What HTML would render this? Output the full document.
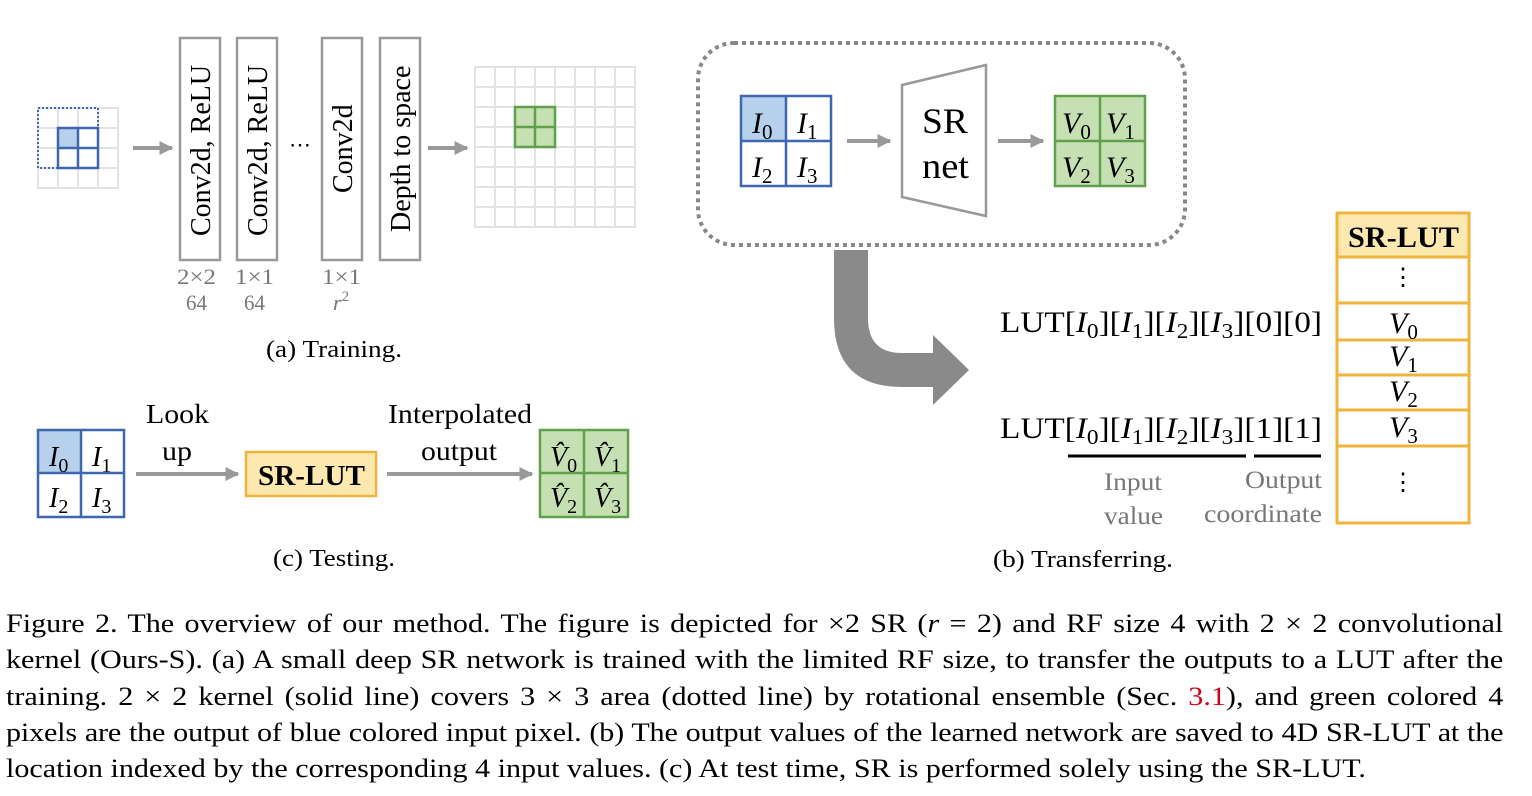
<!DOCTYPE html>
<html><head><meta charset="utf-8"><style>
body{margin:0;background:#fff;width:1532px;height:796px;overflow:hidden;position:relative;font-family:"Liberation Serif",serif}
svg{position:absolute;left:0;top:0}
.cap{position:absolute;left:6px;width:1293px;font-size:26px;line-height:36px;text-align:justify;text-align-last:justify;white-space:nowrap;color:#000;transform:scaleX(1.158);transform-origin:0 0}
.last{text-align-last:left}
text{font-family:"Liberation Serif",serif}
</style></head><body>
<svg width="1532" height="600" viewBox="0 0 1532 600">
<defs>
<marker id="ah2" viewBox="0 0 10 10" markerWidth="14" markerHeight="14" refX="9" refY="5" orient="auto" markerUnits="userSpaceOnUse"><path d="M0,0 L10,5 L0,10 Z" fill="#999"/></marker>
</defs>
<!-- (a) input grid -->
<g stroke="#e3e3e3" stroke-width="2" fill="none">
<rect x="38" y="108" width="80" height="80"/>
<path d="M58,108V188M78,108V188M98,108V188M38,128H118M38,148H118M38,168H118"/>
</g>
<rect x="58" y="128" width="20" height="20" fill="#b7d0ec"/>
<rect x="38" y="108" width="60" height="60" fill="none" stroke="#3f66b0" stroke-width="2" stroke-dasharray="2,2"/>
<g stroke="#3f66b0" stroke-width="2.5" fill="none"><rect x="58" y="128" width="40" height="40"/><path d="M78,128V168M58,148H98"/></g>
<line x1="133" y1="148" x2="172" y2="148" stroke="#999" stroke-width="4" marker-end="url(#ah2)"/>
<g fill="#fff" stroke="#999" stroke-width="2.5">
<rect x="180" y="38" width="40" height="222"/><rect x="237" y="38" width="40" height="222"/>
<rect x="322" y="38" width="40" height="222"/><rect x="380" y="38" width="40" height="222"/>
</g>
<g font-size="28" fill="#000">
<text transform="translate(210,236) rotate(-90)">Conv2d, ReLU</text>
<text transform="translate(267,236) rotate(-90)">Conv2d, ReLU</text>
<text transform="translate(352,193) rotate(-90)">Conv2d</text>
<text transform="translate(410,232) rotate(-90)">Depth to space</text>
</g>
<text x="300" y="152" font-size="22" text-anchor="middle">⋯</text>
<g font-size="22" fill="#777">
<text x="177" y="284" textLength="39" lengthAdjust="spacingAndGlyphs">2×2</text><text x="186" y="310" textLength="21" lengthAdjust="spacingAndGlyphs">64</text>
<text x="235" y="284" textLength="39" lengthAdjust="spacingAndGlyphs">1×1</text><text x="244" y="310" textLength="21" lengthAdjust="spacingAndGlyphs">64</text>
<text x="322" y="284" textLength="39" lengthAdjust="spacingAndGlyphs">1×1</text><text x="333" y="310" font-style="italic">r<tspan font-size="15" dy="-9" font-style="normal">2</tspan></text>
</g>
<line x1="428" y1="148" x2="467" y2="148" stroke="#999" stroke-width="4" marker-end="url(#ah2)"/>
<rect x="515" y="107" width="40" height="40" fill="#c6e0b4"/>
<g stroke="#e3e3e3" stroke-width="2" fill="none">
<rect x="475" y="67" width="160" height="160"/>
<path d="M495,67V227M515,67V227M535,67V227M555,67V227M575,67V227M595,67V227M615,67V227M475,87H635M475,107H635M475,127H635M475,147H635M475,167H635M475,187H635M475,207H635"/>
</g>
<g stroke="#5fa14a" stroke-width="2.5" fill="none"><rect x="515" y="107" width="40" height="40"/><path d="M535,107V147M515,127H555"/></g>
<text x="266" y="357" font-size="24" textLength="136" lengthAdjust="spacingAndGlyphs">(a) Training.</text>

<!-- (c) -->
<rect x="38" y="430" width="43" height="43" fill="#b7d0ec"/>
<g stroke="#3f66b0" stroke-width="2.5" fill="none"><rect x="38" y="430" width="86" height="87"/><path d="M81,430V517M38,473H124"/></g>
<g font-size="28" font-style="italic">
<text x="49" y="466">I<tspan font-size="20" font-style="normal" dy="6">0</tspan></text>
<text x="92" y="466">I<tspan font-size="20" font-style="normal" dy="6">1</tspan></text>
<text x="49" y="507">I<tspan font-size="20" font-style="normal" dy="6">2</tspan></text>
<text x="92" y="507">I<tspan font-size="20" font-style="normal" dy="6">3</tspan></text>
</g>
<g font-size="27">
<text x="146" y="423" textLength="63" lengthAdjust="spacingAndGlyphs">Look</text>
<text x="162" y="460" textLength="30" lengthAdjust="spacingAndGlyphs">up</text>
<text x="388" y="423" textLength="144" lengthAdjust="spacingAndGlyphs">Interpolated</text>
<text x="421" y="460" textLength="76" lengthAdjust="spacingAndGlyphs">output</text></g>
<line x1="136" y1="474" x2="238" y2="474" stroke="#999" stroke-width="4" marker-end="url(#ah2)"/>
<rect x="246" y="452" width="130" height="44" fill="#fde9b0" stroke="#f0b43c" stroke-width="2.5"/>
<text x="258" y="485" font-size="28" font-weight="bold" textLength="107" lengthAdjust="spacingAndGlyphs">SR-LUT</text>
<line x1="387" y1="474" x2="532" y2="474" stroke="#999" stroke-width="4" marker-end="url(#ah2)"/>
<rect x="540" y="430" width="88" height="87" fill="#c6e0b4" stroke="#5fa14a" stroke-width="2.5"/>
<path d="M584,430V517M540,473H628" stroke="#5fa14a" stroke-width="2.5"/>
<g font-size="28" font-style="italic">
<text x="550" y="466">V̂<tspan font-size="20" font-style="normal" dy="6">0</tspan></text>
<text x="594" y="466">V̂<tspan font-size="20" font-style="normal" dy="6">1</tspan></text>
<text x="550" y="507">V̂<tspan font-size="20" font-style="normal" dy="6">2</tspan></text>
<text x="594" y="507">V̂<tspan font-size="20" font-style="normal" dy="6">3</tspan></text>
</g>
<text x="273" y="566" font-size="24" textLength="122" lengthAdjust="spacingAndGlyphs">(c) Testing.</text>

<!-- (b) -->
<rect x="698" y="43" width="487" height="202" rx="36" fill="none" stroke="#888" stroke-width="4" stroke-dasharray="4,4"/>
<rect x="741" y="96" width="45" height="45" fill="#b7d0ec"/>
<g stroke="#3f66b0" stroke-width="2.5" fill="none"><rect x="741" y="96" width="90" height="90"/><path d="M786,96V186M741,141H831"/></g>
<g font-size="30" font-style="italic">
<text x="752" y="133">I<tspan font-size="21" font-style="normal" dy="6">0</tspan></text>
<text x="797" y="133">I<tspan font-size="21" font-style="normal" dy="6">1</tspan></text>
<text x="752" y="177">I<tspan font-size="21" font-style="normal" dy="6">2</tspan></text>
<text x="797" y="177">I<tspan font-size="21" font-style="normal" dy="6">3</tspan></text>
</g>
<line x1="847" y1="141" x2="890" y2="141" stroke="#999" stroke-width="4" marker-end="url(#ah2)"/>
<path d="M902,85 L986,65 L986,216 L902,197 Z" fill="#fff" stroke="#999" stroke-width="2.5"/>
<g font-size="36"><text x="922" y="133" textLength="46" lengthAdjust="spacingAndGlyphs">SR</text><text x="922" y="178" textLength="47" lengthAdjust="spacingAndGlyphs">net</text></g>
<line x1="998" y1="141" x2="1043" y2="141" stroke="#999" stroke-width="4" marker-end="url(#ah2)"/>
<rect x="1055" y="96" width="90" height="90" fill="#c6e0b4" stroke="#5fa14a" stroke-width="2.5"/>
<path d="M1100,96V186M1055,141H1145" stroke="#5fa14a" stroke-width="2.5"/>
<g font-size="30" font-style="italic">
<text x="1062" y="133">V<tspan font-size="21" font-style="normal" dy="6">0</tspan></text>
<text x="1106" y="133">V<tspan font-size="21" font-style="normal" dy="6">1</tspan></text>
<text x="1062" y="177">V<tspan font-size="21" font-style="normal" dy="6">2</tspan></text>
<text x="1106" y="177">V<tspan font-size="21" font-style="normal" dy="6">3</tspan></text>
</g>
<path d="M834,250 L868,250 L868,318 Q868,353 902,353 L933,353 L933,335 L969,370 L933,405 L933,387 L902,387 Q834,387 834,318 Z" fill="#8a8a8a"/>
<!-- table -->
<rect x="1337" y="213" width="132" height="44" fill="#fde9b0"/>
<g stroke="#f0b43c" stroke-width="3" fill="none"><rect x="1337" y="213" width="132" height="310"/>
<path d="M1337,257H1469M1337,303H1469M1337,340H1469M1337,375H1469M1337,410H1469M1337,446H1469"/></g>
<text x="1348" y="247" font-size="30" font-weight="bold" textLength="111" lengthAdjust="spacingAndGlyphs">SR-LUT</text>
<g font-size="24" text-anchor="middle"><text x="1403" y="285">⋮</text><text x="1403" y="490">⋮</text></g>
<g font-size="30" font-style="italic">
<text x="1389" y="333">V<tspan font-size="21" font-style="normal" dy="6">0</tspan></text>
<text x="1389" y="366">V<tspan font-size="21" font-style="normal" dy="6">1</tspan></text>
<text x="1389" y="401">V<tspan font-size="21" font-style="normal" dy="6">2</tspan></text>
<text x="1389" y="437">V<tspan font-size="21" font-style="normal" dy="6">3</tspan></text>
</g>
<g font-size="30">
<text x="1000" y="332" textLength="322" lengthAdjust="spacingAndGlyphs">LUT[<tspan font-style="italic">I</tspan><tspan font-size="21" dy="6">0</tspan><tspan dy="-6">][</tspan><tspan font-style="italic">I</tspan><tspan font-size="21" dy="6">1</tspan><tspan dy="-6">][</tspan><tspan font-style="italic">I</tspan><tspan font-size="21" dy="6">2</tspan><tspan dy="-6">][</tspan><tspan font-style="italic">I</tspan><tspan font-size="21" dy="6">3</tspan><tspan dy="-6">][0][0]</tspan></text>
<text x="1000" y="438" textLength="322" lengthAdjust="spacingAndGlyphs">LUT[<tspan font-style="italic">I</tspan><tspan font-size="21" dy="6">0</tspan><tspan dy="-6">][</tspan><tspan font-style="italic">I</tspan><tspan font-size="21" dy="6">1</tspan><tspan dy="-6">][</tspan><tspan font-style="italic">I</tspan><tspan font-size="21" dy="6">2</tspan><tspan dy="-6">][</tspan><tspan font-style="italic">I</tspan><tspan font-size="21" dy="6">3</tspan><tspan dy="-6">][1][1]</tspan></text>
</g>
<path d="M1068,456H1246M1254,456H1321" stroke="#000" stroke-width="3"/>
<g font-size="25" fill="#777">
<text x="1104" y="490" textLength="58" lengthAdjust="spacingAndGlyphs">Input</text>
<text x="1104" y="524" textLength="59" lengthAdjust="spacingAndGlyphs">value</text>
<text x="1245" y="488" textLength="77" lengthAdjust="spacingAndGlyphs">Output</text>
<text x="1204" y="522" textLength="118" lengthAdjust="spacingAndGlyphs">coordinate</text></g>
<text x="993" y="567" font-size="24" textLength="180" lengthAdjust="spacingAndGlyphs">(b) Transferring.</text>
</svg>
<div class="cap" style="top:606px">Figure 2. The overview of our method. The figure is depicted for ×2 SR (<i>r</i> = 2) and RF size 4 with 2 × 2 convolutional</div>
<div class="cap" style="top:642px">kernel (Ours-S). (a) A small deep SR network is trained with the limited RF size, to transfer the outputs to a LUT after the</div>
<div class="cap" style="top:679px">training. 2 × 2 kernel (solid line) covers 3 × 3 area (dotted line) by rotational ensemble (Sec. <span style="color:#d0021b">3.1</span>), and green colored 4</div>
<div class="cap" style="top:715px;letter-spacing:-0.15px">pixels are the output of blue colored input pixel. (b) The output values of the learned network are saved to 4D SR-LUT at the</div>
<div class="cap last" style="top:751px">location indexed by the corresponding 4 input values. (c) At test time, SR is performed solely using the SR-LUT.</div>
</body></html>
